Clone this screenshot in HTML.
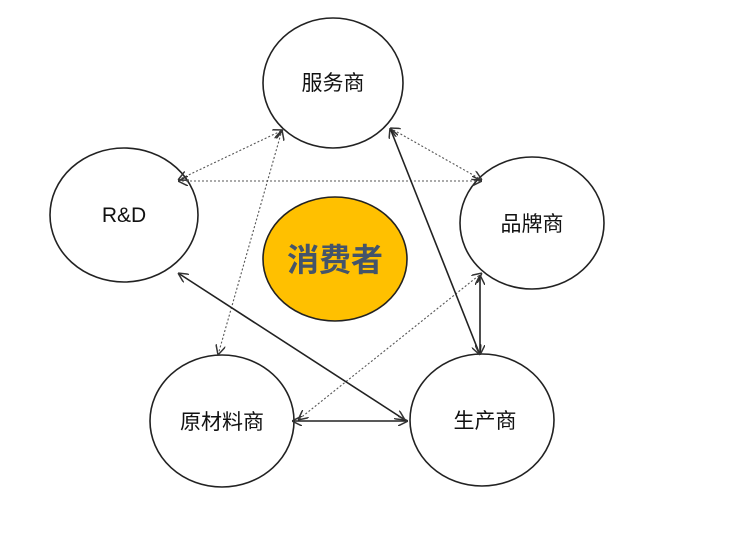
<!DOCTYPE html>
<html><head><meta charset="utf-8"><style>
html,body{margin:0;padding:0;background:#fff;width:744px;height:540px;overflow:hidden}
text{font-family:"Liberation Sans","Noto Sans CJK SC",sans-serif}
</style></head><body>
<svg width="744" height="540" viewBox="0 0 744 540" xmlns="http://www.w3.org/2000/svg">
<defs>
<marker id="a" viewBox="0 0 10 10" refX="10" refY="5" markerWidth="10" markerHeight="10" orient="auto-start-reverse" markerUnits="userSpaceOnUse"><path d="M0,0 L10,5 L0,10" fill="none" stroke="#333" stroke-width="1.5"/></marker>
</defs>
<g fill="#fff" stroke="#222" stroke-width="1.6">
<ellipse cx="333" cy="83" rx="70" ry="65"/>
<ellipse cx="124" cy="215" rx="74" ry="67"/>
<ellipse cx="532" cy="223" rx="72" ry="66"/>
<ellipse cx="222" cy="421" rx="72" ry="66"/>
<ellipse cx="482" cy="420" rx="72" ry="66"/>
<ellipse cx="335" cy="259" rx="72" ry="62" fill="#FFC000"/>
</g>
<g stroke="#555" stroke-width="1.1" stroke-dasharray="2,2" fill="none" marker-start="url(#a)" marker-end="url(#a)">
<line x1="178" y1="180" x2="283" y2="130"/>
<line x1="178" y1="181" x2="482" y2="181"/>
<line x1="282" y1="130" x2="218" y2="355"/>
<line x1="390" y1="128" x2="482" y2="180"/>
<line x1="482" y1="273" x2="298" y2="420"/>
</g>
<g stroke="#222" stroke-width="1.6" fill="none" marker-start="url(#a)" marker-end="url(#a)">
<line x1="390" y1="128" x2="480" y2="355"/>
<line x1="480" y1="275" x2="480" y2="355"/>
<line x1="178" y1="273" x2="405" y2="420"/>
<line x1="292" y1="421" x2="408" y2="421"/>
</g>
<g font-size="21" fill="#111" text-anchor="middle">
<text x="333" y="90">服务商</text>
<text x="124" y="222">R&amp;D</text>
<text x="532" y="231">品牌商</text>
<text x="222" y="429">原材料商</text>
<text x="485" y="428">生产商</text>
</g>
<text x="335" y="271" font-size="32" font-weight="bold" fill="#44546A" text-anchor="middle">消费者</text>
</svg>
</body></html>
